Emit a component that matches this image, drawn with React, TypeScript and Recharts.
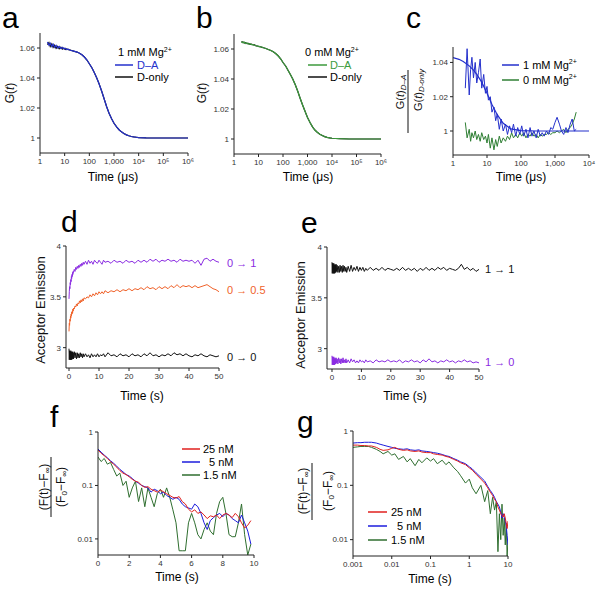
import { LineChart, Line, XAxis, YAxis } from "recharts";

const FONT = '"Liberation Sans", Arial, Helvetica, sans-serif';

// a, b: FCS correlation curves (time in µs)
const FCS_T = [
  2, 2.3, 2.6, 3, 3.4, 3.9, 4.5, 5.2, 6, 7,
  8, 9.2, 10.5, 12, 14, 16, 20, 25, 32, 40,
  50, 63, 80, 100, 130, 160, 200, 250, 320, 400,
  500, 630, 800, 1000, 1300, 1600, 2000, 2500, 3200, 4000,
  5000, 6300, 8000, 10000, 20000, 50000, 100000, 1000000,
];
const A_DA = [
  1.064, 1.0618, 1.0632, 1.061, 1.0626, 1.0604, 1.0618, 1.06, 1.061, 1.0597,
  1.0604, 1.0594, 1.0598, 1.059, 1.0592, 1.0587, 1.0582, 1.0578, 1.0573, 1.0565,
  1.0555, 1.054, 1.052, 1.0495, 1.0465, 1.0435, 1.04, 1.036, 1.031, 1.026,
  1.021, 1.0165, 1.0128, 1.0098, 1.0072, 1.0055, 1.0041, 1.003, 1.0021, 1.0015,
  1.001, 1.0007, 1.0005, 1.0003, 1.0001, 1.0, 1.0, 1.0,
];
const A_DONLY = [
  1.0622, 1.0636, 1.061, 1.0628, 1.0604, 1.0619, 1.0598, 1.0611, 1.0595, 1.0605,
  1.0592, 1.06, 1.059, 1.0594, 1.0589, 1.0587, 1.0582, 1.0578, 1.0573, 1.0565,
  1.0555, 1.054, 1.052, 1.0495, 1.0465, 1.0435, 1.04, 1.036, 1.031, 1.026,
  1.021, 1.0165, 1.0128, 1.0098, 1.0072, 1.0055, 1.0041, 1.003, 1.0021, 1.0015,
  1.001, 1.0007, 1.0005, 1.0003, 1.0001, 1.0, 1.0, 1.0,
];
const B_DA = [
  1.065, 1.0641, 1.0646, 1.0637, 1.0641, 1.0633, 1.0635, 1.0629, 1.0629, 1.0625,
  1.0622, 1.0619, 1.0617, 1.0614, 1.0612, 1.0608, 1.0603, 1.0597, 1.059, 1.0581,
  1.057, 1.0555, 1.0535, 1.051, 1.0485, 1.0458, 1.043, 1.04, 1.036, 1.0318,
  1.0272, 1.0227, 1.0183, 1.0143, 1.0107, 1.0081, 1.006, 1.0045, 1.0032, 1.0023,
  1.0016, 1.0011, 1.0007, 1.0005, 1.0002, 1.0, 1.0, 1.0,
];
const B_DONLY = [
  1.0646, 1.0648, 1.064, 1.0643, 1.0636, 1.0638, 1.0631, 1.0633, 1.0627, 1.0627,
  1.062, 1.062, 1.0616, 1.0615, 1.0611, 1.0608, 1.0603, 1.0597, 1.059, 1.0581,
  1.057, 1.0555, 1.0535, 1.051, 1.0485, 1.0458, 1.043, 1.04, 1.036, 1.0318,
  1.0272, 1.0227, 1.0183, 1.0143, 1.0107, 1.0081, 1.006, 1.0045, 1.0032, 1.0023,
  1.0016, 1.0011, 1.0007, 1.0005, 1.0002, 1.0, 1.0, 1.0,
];

// c: ratio G(t)D-A / G(t)D-only
const C_T = [
  2.3, 2.6, 3.0, 3.3, 3.6, 4.0, 4.5, 5.0, 5.6, 6.3,
  7.0, 8.0, 9.0, 10, 11, 12.5, 14, 16, 18, 20,
  23, 26, 30, 35, 40, 46, 53, 60, 70, 80,
  92, 105, 120, 140, 160, 185, 210, 240, 280, 320,
  370, 420, 480, 560, 650, 750, 860, 1000, 1150, 1350,
  1550, 1800, 2100, 2400, 2800, 3200, 3700, 4200,
];
const C_1MM = [
  1.025, 1.048, 1.021, 1.036, 1.043, 1.031, 1.04, 1.028, 1.034, 1.042,
  1.025, 1.033, 1.022, 1.026, 1.018, 1.02, 1.011, 1.014, 1.006, 1.01,
  1.001, 1.007, 1.0, 1.004, 0.998, 1.003, 0.999, 1.004, 0.997, 1.002,
  0.998, 1.003, 0.997, 1.001, 0.996, 1.002, 0.997, 1.0, 0.996, 1.001,
  0.997, 0.999, 0.997, 1.0, 0.998, 1.002, 1.001, 1.005, 1.008, 1.004,
  1.0, 0.998, 1.002, 0.999, 1.004, 1.007, 1.0, 1.001,
];
const C_0MM = [
  1.005, 0.996, 1.001, 0.994, 0.999, 0.996, 1.0, 0.995, 0.998, 0.994,
  0.999, 0.995, 0.997, 0.993, 0.998, 0.99, 0.996, 0.989, 0.995, 0.991,
  0.997, 0.993, 0.996, 0.994, 0.997, 0.995, 0.999, 0.996, 0.998, 0.996,
  0.999, 0.997, 0.999, 0.996, 0.998, 0.997, 0.999, 0.997, 0.998, 0.996,
  0.998, 0.997, 0.998, 0.998, 0.999, 0.998, 0.999, 0.999, 1.0, 0.999,
  1.0, 1.001, 0.999, 1.001, 1.002, 1.004, 1.007, 1.011,
];
const C_FIT_T = [1, 1.5, 2, 3, 4, 5, 7, 10, 14, 20, 30, 50, 100, 300, 1000, 10000];
const C_FIT = [
  1.0428, 1.0418, 1.0405, 1.038, 1.0355, 1.033, 1.0285, 1.022, 1.0155, 1.0095,
  1.0045, 1.0012, 1.0002, 1.0, 1.0, 1.0,
];

// d, e: acceptor emission traces (time in s)
const TR_T = [
  0, 0.1, 0.2, 0.3, 0.4, 0.5, 0.6, 0.7, 0.8, 0.9,
  1.0, 1.1, 1.2, 1.3, 1.4, 1.5, 1.75, 2, 2.25, 2.5,
  2.75, 3, 3.25, 3.5, 3.75, 4, 4.25, 4.5, 4.75, 5,
  5.5, 6, 6.5, 7, 7.5, 8, 8.5, 9, 9.5, 10,
  10.5, 11, 11.5, 12, 13, 14, 15, 16, 17, 18,
  19, 20, 21, 22, 23, 24, 25, 26, 27, 28,
  29, 30, 31, 32, 33, 34, 35, 36, 37, 38,
  39, 40, 41, 42, 43, 44, 45, 46, 47, 48,
  49, 50,
];
const D_0TO1 = [
  3.48, 3.55, 3.6, 3.58, 3.64, 3.62, 3.67, 3.65, 3.7, 3.68,
  3.72, 3.7, 3.74, 3.72, 3.75, 3.74, 3.77, 3.75, 3.79, 3.77,
  3.8, 3.78, 3.81, 3.79, 3.82, 3.8, 3.83, 3.81, 3.84, 3.82,
  3.85, 3.82, 3.86, 3.83, 3.85, 3.82, 3.86, 3.84, 3.83, 3.86,
  3.84, 3.82, 3.86, 3.84, 3.85, 3.83, 3.86, 3.84, 3.85, 3.83,
  3.86, 3.84, 3.85, 3.83, 3.86, 3.84, 3.86, 3.84, 3.87, 3.85,
  3.87, 3.84, 3.86, 3.85, 3.87, 3.85, 3.86, 3.84, 3.87, 3.85,
  3.86, 3.85, 3.86, 3.83, 3.86, 3.81, 3.87, 3.88, 3.85, 3.87,
  3.85, 3.84,
];
const D_0TO05 = [
  3.16, 3.24, 3.22, 3.28, 3.26, 3.31, 3.29, 3.33, 3.31, 3.35,
  3.33, 3.36, 3.34, 3.38, 3.36, 3.39, 3.38, 3.41, 3.4, 3.43,
  3.41, 3.44, 3.43, 3.46, 3.44, 3.47, 3.45, 3.48, 3.46, 3.49,
  3.48, 3.5, 3.49, 3.52, 3.5, 3.53, 3.51, 3.54, 3.52, 3.55,
  3.53, 3.55, 3.53, 3.56, 3.54, 3.56, 3.55, 3.57, 3.55, 3.57,
  3.56, 3.58, 3.56, 3.58, 3.57, 3.59, 3.57, 3.6, 3.58, 3.59,
  3.57, 3.6, 3.58, 3.6, 3.58, 3.61, 3.59, 3.62, 3.59, 3.61,
  3.6, 3.61, 3.59, 3.61, 3.59, 3.6, 3.61, 3.62, 3.6, 3.58,
  3.57, 3.55,
];
const D_0TO0 = [
  2.99, 2.88, 2.97, 2.89, 2.96, 2.88, 2.97, 2.89, 2.96, 2.88,
  2.95, 2.89, 2.96, 2.9, 2.95, 2.89, 2.96, 2.9, 2.95, 2.89,
  2.95, 2.9, 2.94, 2.9, 2.95, 2.91, 2.94, 2.9, 2.94, 2.91,
  2.94, 2.91, 2.93, 2.9, 2.94, 2.91, 2.93, 2.91, 2.94, 2.91,
  2.93, 2.92, 2.94, 2.91, 2.95, 2.92, 2.93, 2.91, 2.94, 2.92,
  2.93, 2.91, 2.94, 2.92, 2.93, 2.91, 2.94, 2.92, 2.95, 2.92,
  2.93, 2.91, 2.93, 2.92, 2.94, 2.92, 2.95, 2.93, 2.94, 2.92,
  2.94, 2.92, 2.91, 2.93, 2.92, 2.94, 2.92, 2.91, 2.93, 2.92,
  2.91, 2.92,
];
const E_1TO1 = [
  3.85, 3.74, 3.84, 3.75, 3.83, 3.74, 3.84, 3.75, 3.82, 3.74,
  3.83, 3.75, 3.82, 3.75, 3.83, 3.76, 3.82, 3.75, 3.81, 3.75,
  3.82, 3.76, 3.81, 3.75, 3.82, 3.76, 3.81, 3.76, 3.8, 3.75,
  3.81, 3.76, 3.82, 3.76, 3.8, 3.77, 3.81, 3.76, 3.8, 3.77,
  3.8, 3.76, 3.79, 3.77, 3.8, 3.77, 3.79, 3.77, 3.8, 3.77,
  3.79, 3.78, 3.77, 3.79, 3.77, 3.8, 3.77, 3.79, 3.77, 3.79,
  3.76, 3.79, 3.77, 3.8, 3.77, 3.79, 3.77, 3.8, 3.78, 3.8,
  3.77, 3.79, 3.78, 3.77, 3.79, 3.83, 3.78, 3.8, 3.77, 3.79,
  3.76, 3.78,
];
const E_1TO0 = [
  2.93, 2.84, 2.92, 2.85, 2.91, 2.84, 2.92, 2.85, 2.9, 2.84,
  2.91, 2.85, 2.9, 2.85, 2.91, 2.86, 2.9, 2.85, 2.91, 2.86,
  2.9, 2.85, 2.9, 2.86, 2.91, 2.86, 2.89, 2.86, 2.9, 2.86,
  2.89, 2.86, 2.9, 2.87, 2.89, 2.86, 2.88, 2.86, 2.89, 2.87,
  2.88, 2.86, 2.89, 2.87, 2.88, 2.86, 2.89, 2.87, 2.88, 2.87,
  2.89, 2.87, 2.88, 2.87, 2.89, 2.86, 2.88, 2.87, 2.89, 2.87,
  2.88, 2.86, 2.89, 2.87, 2.9, 2.87, 2.88, 2.86, 2.88, 2.87,
  2.89, 2.87, 2.88, 2.86, 2.88, 2.87, 2.89, 2.87, 2.88, 2.86,
  2.87, 2.86,
];

// f: normalised decay, linear time
const F_T = [
  0, 0.2, 0.4, 0.6, 0.8, 1, 1.2, 1.4, 1.6, 1.8,
  2, 2.2, 2.4, 2.6, 2.8, 3, 3.2, 3.4, 3.6, 3.8,
  4, 4.2, 4.4, 4.6, 4.8, 5, 5.2, 5.4, 5.6, 5.8,
  6, 6.2, 6.4, 6.6, 6.8, 7, 7.2, 7.4, 7.6, 7.8,
  8, 8.2, 8.4, 8.6, 8.8, 9, 9.2, 9.4, 9.6, 9.8,
];
const F_25 = [
  0.46, 0.4, 0.36, 0.32, 0.28, 0.25, 0.22, 0.19, 0.17, 0.16,
  0.145, 0.13, 0.12, 0.115, 0.1, 0.092, 0.095, 0.085, 0.08, 0.075,
  0.082, 0.076, 0.07, 0.065, 0.06, 0.058, 0.062, 0.05, 0.045, 0.036,
  0.032, 0.035, 0.03, 0.032, 0.028, 0.024, 0.027, 0.026, 0.028, 0.024,
  0.028, 0.03, 0.028, 0.025, 0.03, 0.026, 0.02, 0.016, 0.018, 0.022,
];
const F_5 = [
  0.48, 0.42, 0.37, 0.33, 0.29, 0.26, 0.23, 0.2, 0.18, 0.16,
  0.15, 0.135, 0.12, 0.11, 0.1, 0.095, 0.09, 0.075, 0.085, 0.08,
  0.07, 0.075, 0.065, 0.06, 0.055, 0.06, 0.055, 0.045, 0.04, 0.038,
  0.036, 0.045, 0.04, 0.03, 0.02, 0.015, 0.022, 0.025, 0.028, 0.03,
  0.026, 0.03, 0.028, 0.024, 0.022, 0.02, 0.028, 0.02, 0.014, 0.008,
];
const F_15 = [
  0.34, 0.28, 0.32, 0.25, 0.27, 0.2, 0.15, 0.17, 0.1, 0.12,
  0.06, 0.09, 0.12, 0.05, 0.09, 0.04, 0.09, 0.06, 0.04, 0.07,
  0.085, 0.06, 0.09, 0.06, 0.035, 0.02, 0.006, 0.006, 0.006, 0.02,
  0.03, 0.02, 0.012, 0.01, 0.015, 0.02, 0.014, 0.012, 0.03, 0.05,
  0.06, 0.03, 0.012, 0.011, 0.011, 0.02, 0.045, 0.012, 0.005, 0.008,
];

// g: same decays on log time
const G_T = [
  0.001, 0.0013, 0.0016, 0.002, 0.0025, 0.003, 0.004, 0.005, 0.006, 0.008,
  0.01, 0.012, 0.015, 0.02, 0.025, 0.03, 0.04, 0.05, 0.06, 0.08,
  0.1, 0.12, 0.15, 0.2, 0.25, 0.3, 0.4, 0.5, 0.6, 0.8,
  1, 1.2, 1.5, 2, 2.5, 3, 3.5, 4, 4.5, 5,
  5.5, 6, 6.5, 7, 7.5, 8, 8.5, 9, 9.5, 10,
];
const G_25 = [
  0.55, 0.55, 0.54, 0.54, 0.53, 0.53, 0.5, 0.46, 0.44, 0.45,
  0.48, 0.5, 0.46, 0.44, 0.45, 0.43, 0.42, 0.43, 0.41, 0.4,
  0.4, 0.38, 0.37, 0.36, 0.34, 0.33, 0.3, 0.28, 0.26, 0.24,
  0.21, 0.19, 0.16, 0.13, 0.11, 0.09, 0.075, 0.065, 0.055, 0.05,
  0.04, 0.035, 0.03, 0.028, 0.026, 0.03, 0.025, 0.02, 0.016, 0.022,
];
const G_5 = [
  0.6, 0.61, 0.61, 0.62, 0.62, 0.62, 0.6, 0.57, 0.55, 0.52,
  0.5, 0.48, 0.47, 0.46, 0.47, 0.45, 0.44, 0.45, 0.43, 0.42,
  0.41, 0.4, 0.39, 0.37, 0.35, 0.34, 0.31, 0.29, 0.27, 0.25,
  0.22, 0.2, 0.17, 0.14, 0.12, 0.095, 0.08, 0.07, 0.06, 0.05,
  0.045, 0.04, 0.032, 0.025, 0.03, 0.026, 0.022, 0.018, 0.012, 0.008,
];
const G_15 = [
  0.5, 0.51, 0.52, 0.52, 0.52, 0.5, 0.46, 0.42, 0.38, 0.42,
  0.36, 0.38, 0.3, 0.34, 0.27, 0.31, 0.23, 0.3, 0.26, 0.32,
  0.28, 0.31, 0.25, 0.29, 0.24, 0.27, 0.21, 0.18, 0.15, 0.11,
  0.13, 0.09, 0.07, 0.1, 0.05, 0.08, 0.03, 0.06, 0.035, 0.05,
  0.006, 0.03, 0.01, 0.045, 0.012, 0.025, 0.008, 0.02, 0.005, 0.01,
];

// tick values and labels
const US_TICKS = [1, 10, 100, 1000, 10000, 100000, 1000000];
const US_LABELS = ["1", "10", "100", "1,000", "10⁴", "10⁵", "10⁶"];
const G_TICKS = [1, 1.02, 1.04, 1.06];
const G_LABELS = ["1", "1.02", "1.04", "1.06"];
const RATIO_TICKS = [1, 1.02, 1.04];
const RATIO_LABELS = ["1", "1.02", "1.04"];
const SEC_TICKS = [0, 10, 20, 30, 40, 50];
const SEC_LABELS = ["0", "10", "20", "30", "40", "50"];
const EM_TICKS = [3, 3.5, 4];
const EM_LABELS = ["3", "3.5", "4"];
const F_XTICKS = [0, 2, 4, 6, 8, 10];
const F_XLABELS = ["0", "2", "4", "6", "8", "10"];
const DEC_TICKS = [0.01, 0.1, 1];
const DEC_LABELS = ["0.01", "0.1", "1"];
const LOGS_TICKS = [0.001, 0.01, 0.1, 1, 10];
const LOGS_LABELS = ["0.001", "0.01", "0.1", "1", "10"];

const BLUE = "#2430cc";
const GREEN_B = "#3c9a3c";
const GREEN_C = "#2f7f34";
const GREEN_F = "#2f6e2f";
const PURPLE = "#8a2be2";
const ORANGE = "#f0622a";
const RED = "#e0201e";
const BLUE_F = "#1c1cdc";

const pts = (xs: number[], ys: number[]) => xs.map((x, i) => ({ x, y: ys[i] }));

type Series = { xs: number[]; ys: number[]; color: string; w?: number };

interface PanelProps {
  x0: number;
  y0: number;
  x1: number;
  y1: number;
  xDomain: [number, number];
  yDomain: [number, number];
  xLog?: boolean;
  yLog?: boolean;
  xTicks: number[];
  xLabels: string[];
  yTicks: number[];
  yLabels: string[];
  series: Series[];
}

function Panel(p: PanelProps) {
  const ML = 34, MT = 6, MR = 10, XH = 20;
  const tick = { fontSize: 8, fill: "#333", fontFamily: FONT };
  return (
    <div style={{ position: "absolute", left: p.x0 - ML, top: p.y0 - MT }}>
      <LineChart
        width={p.x1 - p.x0 + ML + MR}
        height={p.y1 - p.y0 + MT + XH}
        margin={{ top: MT, right: MR, bottom: 0, left: 0 }}
      >
        <XAxis
          type="number"
          dataKey="x"
          scale={p.xLog ? "log" : "linear"}
          domain={p.xDomain}
          allowDataOverflow
          ticks={p.xTicks}
          interval={0}
          tickFormatter={(v: number) => p.xLabels[p.xTicks.indexOf(v)] ?? ""}
          height={XH}
          tick={tick}
          tickSize={3}
          stroke="#222"
        />
        <YAxis
          type="number"
          dataKey="y"
          scale={p.yLog ? "log" : "linear"}
          domain={p.yDomain}
          allowDataOverflow
          ticks={p.yTicks}
          interval={0}
          tickFormatter={(v: number) => p.yLabels[p.yTicks.indexOf(v)] ?? ""}
          width={ML}
          tick={tick}
          tickSize={3}
          stroke="#222"
        />
        {p.series.map((s, i) => (
          <Line
            key={i}
            data={pts(s.xs, s.ys)}
            dataKey="y"
            type="linear"
            stroke={s.color}
            strokeWidth={s.w ?? 1}
            dot={false}
            isAnimationActive={false}
          />
        ))}
      </LineChart>
    </div>
  );
}

function Rot({ x, y, size = 12, children }: { x: number; y: number; size?: number; children: any }) {
  return (
    <text
      transform={`translate(${x},${y}) rotate(-90)`}
      textAnchor="middle"
      dominantBaseline="central"
      fontSize={size}
      fill="#111"
    >
      {children}
    </text>
  );
}

function Overlay() {
  const L = 30;
  return (
    <svg
      width={600}
      height={593}
      style={{ position: "absolute", left: 0, top: 0, pointerEvents: "none" }}
      fontFamily={FONT}
    >
      {/* panel letters */}
      <text x={2} y={28} fontSize={L}>a</text>
      <text x={196} y={28} fontSize={L}>b</text>
      <text x={406} y={28} fontSize={L}>c</text>
      <text x={61} y={232} fontSize={L}>d</text>
      <text x={301} y={233} fontSize={L}>e</text>
      <text x={50} y={427} fontSize={L}>f</text>
      <text x={297} y={432} fontSize={L}>g</text>

      {/* a */}
      <Rot x={10} y={93}>G(<tspan fontStyle="italic">t</tspan>)</Rot>
      <text x={113} y={181} fontSize={12} textAnchor="middle">Time (μs)</text>
      <text x={118} y={56} fontSize={11}>1 mM Mg<tspan fontSize={7} dy={-4}>2+</tspan></text>
      <line x1={115} y1={65} x2={133} y2={65} stroke={BLUE} strokeWidth={1.5} />
      <text x={137} y={65} fontSize={11} fill={BLUE} dominantBaseline="central">D–A</text>
      <line x1={115} y1={77} x2={133} y2={77} stroke="#111" strokeWidth={1.5} />
      <text x={137} y={77} fontSize={11} dominantBaseline="central">D-only</text>

      {/* b */}
      <Rot x={202} y={93}>G(<tspan fontStyle="italic">t</tspan>)</Rot>
      <text x={308} y={181} fontSize={12} textAnchor="middle">Time (μs)</text>
      <text x={305} y={56} fontSize={11}>0 mM Mg<tspan fontSize={7} dy={-4}>2+</tspan></text>
      <line x1={308} y1={65} x2={327} y2={65} stroke={GREEN_B} strokeWidth={1.5} />
      <text x={330} y={65} fontSize={11} fill={GREEN_B} dominantBaseline="central">D–A</text>
      <line x1={308} y1={77} x2={327} y2={77} stroke="#111" strokeWidth={1.5} />
      <text x={330} y={77} fontSize={11} dominantBaseline="central">D-only</text>

      {/* c */}
      <Rot x={400} y={92} size={11}>
        G(<tspan fontStyle="italic">t</tspan>)<tspan fontSize={8} fontStyle="italic" dy={3}>D–A</tspan>
      </Rot>
      <line x1={408} y1={70} x2={408} y2={133} stroke="#111" strokeWidth={1} />
      <Rot x={418} y={90} size={11}>
        G(<tspan fontStyle="italic">t</tspan>)<tspan fontSize={8} fontStyle="italic" dy={3}>D-only</tspan>
      </Rot>
      <text x={521} y={181} fontSize={12} textAnchor="middle">Time (μs)</text>
      <line x1={502} y1={65} x2={519} y2={65} stroke={BLUE} strokeWidth={1.5} />
      <text x={523} y={65} fontSize={11} dominantBaseline="central">1 mM Mg<tspan fontSize={7} dy={-4}>2+</tspan></text>
      <line x1={502} y1={80} x2={519} y2={80} stroke={GREEN_C} strokeWidth={1.5} />
      <text x={523} y={80} fontSize={11} dominantBaseline="central">0 mM Mg<tspan fontSize={7} dy={-4}>2+</tspan></text>

      {/* d */}
      <Rot x={40} y={310} size={13}>Acceptor Emission</Rot>
      <text x={142} y={400} fontSize={12} textAnchor="middle">Time (s)</text>
      <text x={227} y={263} fontSize={11} fill={PURPLE} dominantBaseline="central">0 → 1</text>
      <text x={227} y={290} fontSize={11} fill={ORANGE} dominantBaseline="central">0 → 0.5</text>
      <text x={227} y={357} fontSize={11} fill="#111" dominantBaseline="central">0 → 0</text>

      {/* e */}
      <Rot x={300} y={315} size={13}>Acceptor Emission</Rot>
      <text x={405} y={400} fontSize={12} textAnchor="middle">Time (s)</text>
      <text x={485} y={269} fontSize={11} fill="#111" dominantBaseline="central">1 → 1</text>
      <text x={485} y={362} fontSize={11} fill={PURPLE} dominantBaseline="central">1 → 0</text>

      {/* f */}
      <Rot x={44} y={487}>
        (F(t)−F<tspan fontSize={8} dy={3}>∞</tspan><tspan dy={-3}>)</tspan>
      </Rot>
      <line x1={51} y1={457} x2={51} y2={517} stroke="#111" strokeWidth={1} />
      <Rot x={61} y={487}>
        (F<tspan fontSize={8} dy={3}>0</tspan><tspan dy={-3}>−F</tspan><tspan fontSize={8} dy={3}>∞</tspan><tspan dy={-3}>)</tspan>
      </Rot>
      <text x={177} y={581} fontSize={12} textAnchor="middle">Time (s)</text>
      <line x1={182} y1={449} x2={200} y2={449} stroke={RED} strokeWidth={1.5} />
      <text x={203} y={449} fontSize={11} dominantBaseline="central">25 nM</text>
      <line x1={182} y1={462} x2={200} y2={462} stroke={BLUE_F} strokeWidth={1.5} />
      <text x={209} y={462} fontSize={11} dominantBaseline="central">5 nM</text>
      <line x1={182} y1={475} x2={200} y2={475} stroke={GREEN_F} strokeWidth={1.5} />
      <text x={203} y={475} fontSize={11} dominantBaseline="central">1.5 nM</text>

      {/* g */}
      <Rot x={303} y={491}>
        (F(t)−F<tspan fontSize={8} dy={3}>∞</tspan><tspan dy={-3}>)</tspan>
      </Rot>
      <line x1={312} y1={463} x2={312} y2={520} stroke="#111" strokeWidth={1} />
      <Rot x={328} y={491}>
        (F<tspan fontSize={8} dy={3}>0</tspan><tspan dy={-3}>−F</tspan><tspan fontSize={8} dy={3}>∞</tspan><tspan dy={-3}>)</tspan>
      </Rot>
      <text x={430} y={583} fontSize={12} textAnchor="middle">Time (s)</text>
      <line x1={368} y1={512} x2={387} y2={512} stroke={RED} strokeWidth={1.5} />
      <text x={391} y={512} fontSize={11} dominantBaseline="central">25 nM</text>
      <line x1={368} y1={526} x2={387} y2={526} stroke={BLUE_F} strokeWidth={1.5} />
      <text x={397} y={526} fontSize={11} dominantBaseline="central">5 nM</text>
      <line x1={368} y1={540} x2={387} y2={540} stroke={GREEN_F} strokeWidth={1.5} />
      <text x={391} y={540} fontSize={11} dominantBaseline="central">1.5 nM</text>
    </svg>
  );
}

export default function App() {
  return (
    <div
      style={{
        position: "absolute",
        left: 0,
        top: 0,
        width: 600,
        height: 593,
        background: "#fff",
        fontFamily: FONT,
        overflow: "hidden",
      }}
    >
      <Panel
        x0={40} y0={33} x1={188} y1={153}
        xDomain={[1, 1000000]} yDomain={[0.99, 1.07]} xLog
        xTicks={US_TICKS} xLabels={US_LABELS} yTicks={G_TICKS} yLabels={G_LABELS}
        series={[
          { xs: FCS_T, ys: A_DONLY, color: "#111", w: 1.2 },
          { xs: FCS_T, ys: A_DA, color: BLUE, w: 1.2 },
        ]}
      />
      <Panel
        x0={234} y0={34} x1={381} y1={154}
        xDomain={[1, 1000000]} yDomain={[0.99, 1.07]} xLog
        xTicks={US_TICKS} xLabels={US_LABELS} yTicks={G_TICKS} yLabels={G_LABELS}
        series={[
          { xs: FCS_T, ys: B_DONLY, color: "#111", w: 1.2 },
          { xs: FCS_T, ys: B_DA, color: GREEN_B, w: 1.2 },
        ]}
      />
      <Panel
        x0={453} y0={47} x1={589} y1={155}
        xDomain={[1, 10000]} yDomain={[0.986, 1.049]} xLog
        xTicks={US_TICKS.slice(0, 5)} xLabels={US_LABELS.slice(0, 5)}
        yTicks={RATIO_TICKS} yLabels={RATIO_LABELS}
        series={[
          { xs: C_T, ys: C_0MM, color: GREEN_C },
          { xs: C_T, ys: C_1MM, color: BLUE },
          { xs: C_FIT_T, ys: C_FIT, color: BLUE, w: 1.2 },
        ]}
      />
      <Panel
        x0={66} y0={246} x1={219} y1={368}
        xDomain={[-1, 50]} yDomain={[2.8, 4]}
        xTicks={SEC_TICKS} xLabels={SEC_LABELS} yTicks={EM_TICKS} yLabels={EM_LABELS}
        series={[
          { xs: TR_T, ys: D_0TO0, color: "#111" },
          { xs: TR_T, ys: D_0TO05, color: ORANGE },
          { xs: TR_T, ys: D_0TO1, color: PURPLE },
        ]}
      />
      <Panel
        x0={327} y0={247} x1={479} y1={369}
        xDomain={[-1.7, 50]} yDomain={[2.8, 4]}
        xTicks={SEC_TICKS} xLabels={SEC_LABELS} yTicks={EM_TICKS} yLabels={EM_LABELS}
        series={[
          { xs: TR_T, ys: E_1TO1, color: "#111" },
          { xs: TR_T, ys: E_1TO0, color: PURPLE },
        ]}
      />
      <Panel
        x0={98} y0={432} x1={254} y1={555}
        xDomain={[0, 10]} yDomain={[0.005, 1]} yLog
        xTicks={F_XTICKS} xLabels={F_XLABELS} yTicks={DEC_TICKS} yLabels={DEC_LABELS}
        series={[
          { xs: F_T, ys: F_15, color: GREEN_F },
          { xs: F_T, ys: F_5, color: BLUE_F },
          { xs: F_T, ys: F_25, color: RED },
        ]}
      />
      <Panel
        x0={353} y0={431} x1={508} y1={556}
        xDomain={[0.001, 10]} yDomain={[0.005, 1]} xLog yLog
        xTicks={LOGS_TICKS} xLabels={LOGS_LABELS} yTicks={DEC_TICKS} yLabels={DEC_LABELS}
        series={[
          { xs: G_T, ys: G_15, color: GREEN_F },
          { xs: G_T, ys: G_5, color: BLUE_F },
          { xs: G_T, ys: G_25, color: RED },
        ]}
      />
      <Overlay />
    </div>
  );
}
